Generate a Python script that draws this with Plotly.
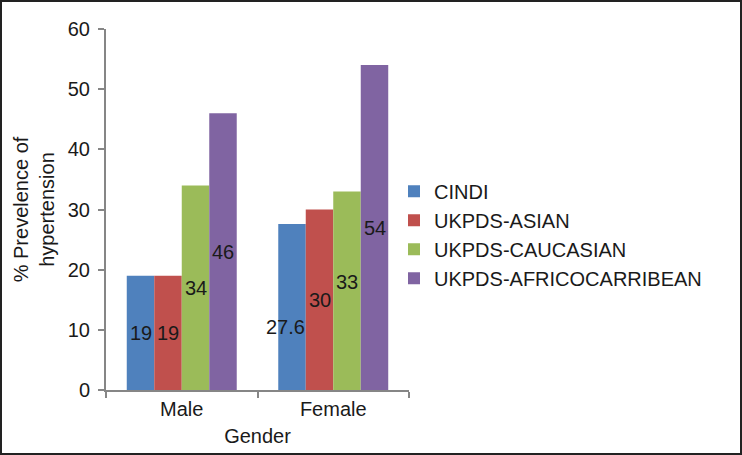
import plotly.graph_objects as go

categories = ["Male", "Female"]
series_names = ["CINDI", "UKPDS-ASIAN", "UKPDS-CAUCASIAN", "UKPDS-AFRICOCARRIBEAN"]
cindi = [19, 27.6]
ukpds_asian = [19, 30]
ukpds_caucasian = [34, 33]
ukpds_africo = [46, 54]
y_ticks = [0, 10, 20, 30, 40, 50, 60]

series_values = [cindi, ukpds_asian, ukpds_caucasian, ukpds_africo]
colors = ["#4F81BD", "#C0504D", "#9BBB59", "#8064A2"]

BARGAP = 0.274
FONT = "Liberation Sans, Arial, sans-serif"
FS = 20

fig = go.Figure()
for i, (name, vals) in enumerate(zip(series_names, series_values)):
    fig.add_trace(go.Bar(
        x=categories, y=vals, name=name, marker_color=colors[i],
        marker_line_width=0, legendgroup=f"g{i}",
        hoverinfo="skip",
    ))

# data labels, roughly centred in each bar (slight manual nudges as in reference)
label_dy = {(1, 0): -3.3, (1, 2): 1.5}   # (category, series) -> shift in data units
label_dx = {(1, 0): -0.045}
n = len(series_names)
w = (1 - BARGAP) / n
for ci, cat in enumerate(categories):
    for si, vals in enumerate(series_values):
        v = vals[ci]
        fig.add_annotation(
            x=ci + (si - (n - 1) / 2) * w + label_dx.get((ci, si), 0),
            y=v / 2 + label_dy.get((ci, si), 0),
            xref="x", yref="y", text=f"{v:g}", showarrow=False,
            font=dict(family=FONT, size=FS, color="#1a1a1a"),
        )

# outer frame
fig.add_shape(type="rect", xref="paper", yref="paper",
              x0=(1 - 106) / 303, x1=(741 - 106) / 303,
              y0=(390 - 454) / 361, y1=(390 - 1) / 361,
              line=dict(color="#222222", width=2), layer="above")

fig.update_layout(
    width=742, height=455,
    margin=dict(l=106, r=333, t=29, b=65),
    paper_bgcolor="white", plot_bgcolor="white",
    barmode="group", bargap=BARGAP, bargroupgap=0,
    font=dict(family=FONT, size=FS, color="#1a1a1a"),
    showlegend=True,
    legend=dict(x=(394 - 106) / 303, xanchor="left", y=0.43, yanchor="middle",
                font=dict(size=FS, family=FONT, color="#1a1a1a"),
                traceorder="grouped", tracegroupgap=0, bgcolor="rgba(0,0,0,0)"),
)
fig.update_xaxes(
    type="category", showline=True, linecolor="#868686", linewidth=2,
    ticks="outside", tickson="boundaries", ticklen=6, tickcolor="#868686", tickwidth=2,
    showgrid=False, tickfont=dict(size=FS, family=FONT),
    title=dict(text="Gender", font=dict(size=FS, family=FONT), standoff=10),
)
fig.update_yaxes(
    range=[0, 60], tickvals=y_ticks, showline=True, linecolor="#868686", linewidth=2,
    ticks="outside", ticklen=6, tickcolor="#868686", tickwidth=2,
    showgrid=False, zeroline=False, tickfont=dict(size=FS, family=FONT),
    ticklabelstandoff=4,
    title=dict(text="% Prevelence of<br>hypertension", font=dict(size=FS, family=FONT), standoff=8),
)

fig.write_html("out.html", config={"displayModeBar": False},
               post_script="document.body.style.margin='0';")
